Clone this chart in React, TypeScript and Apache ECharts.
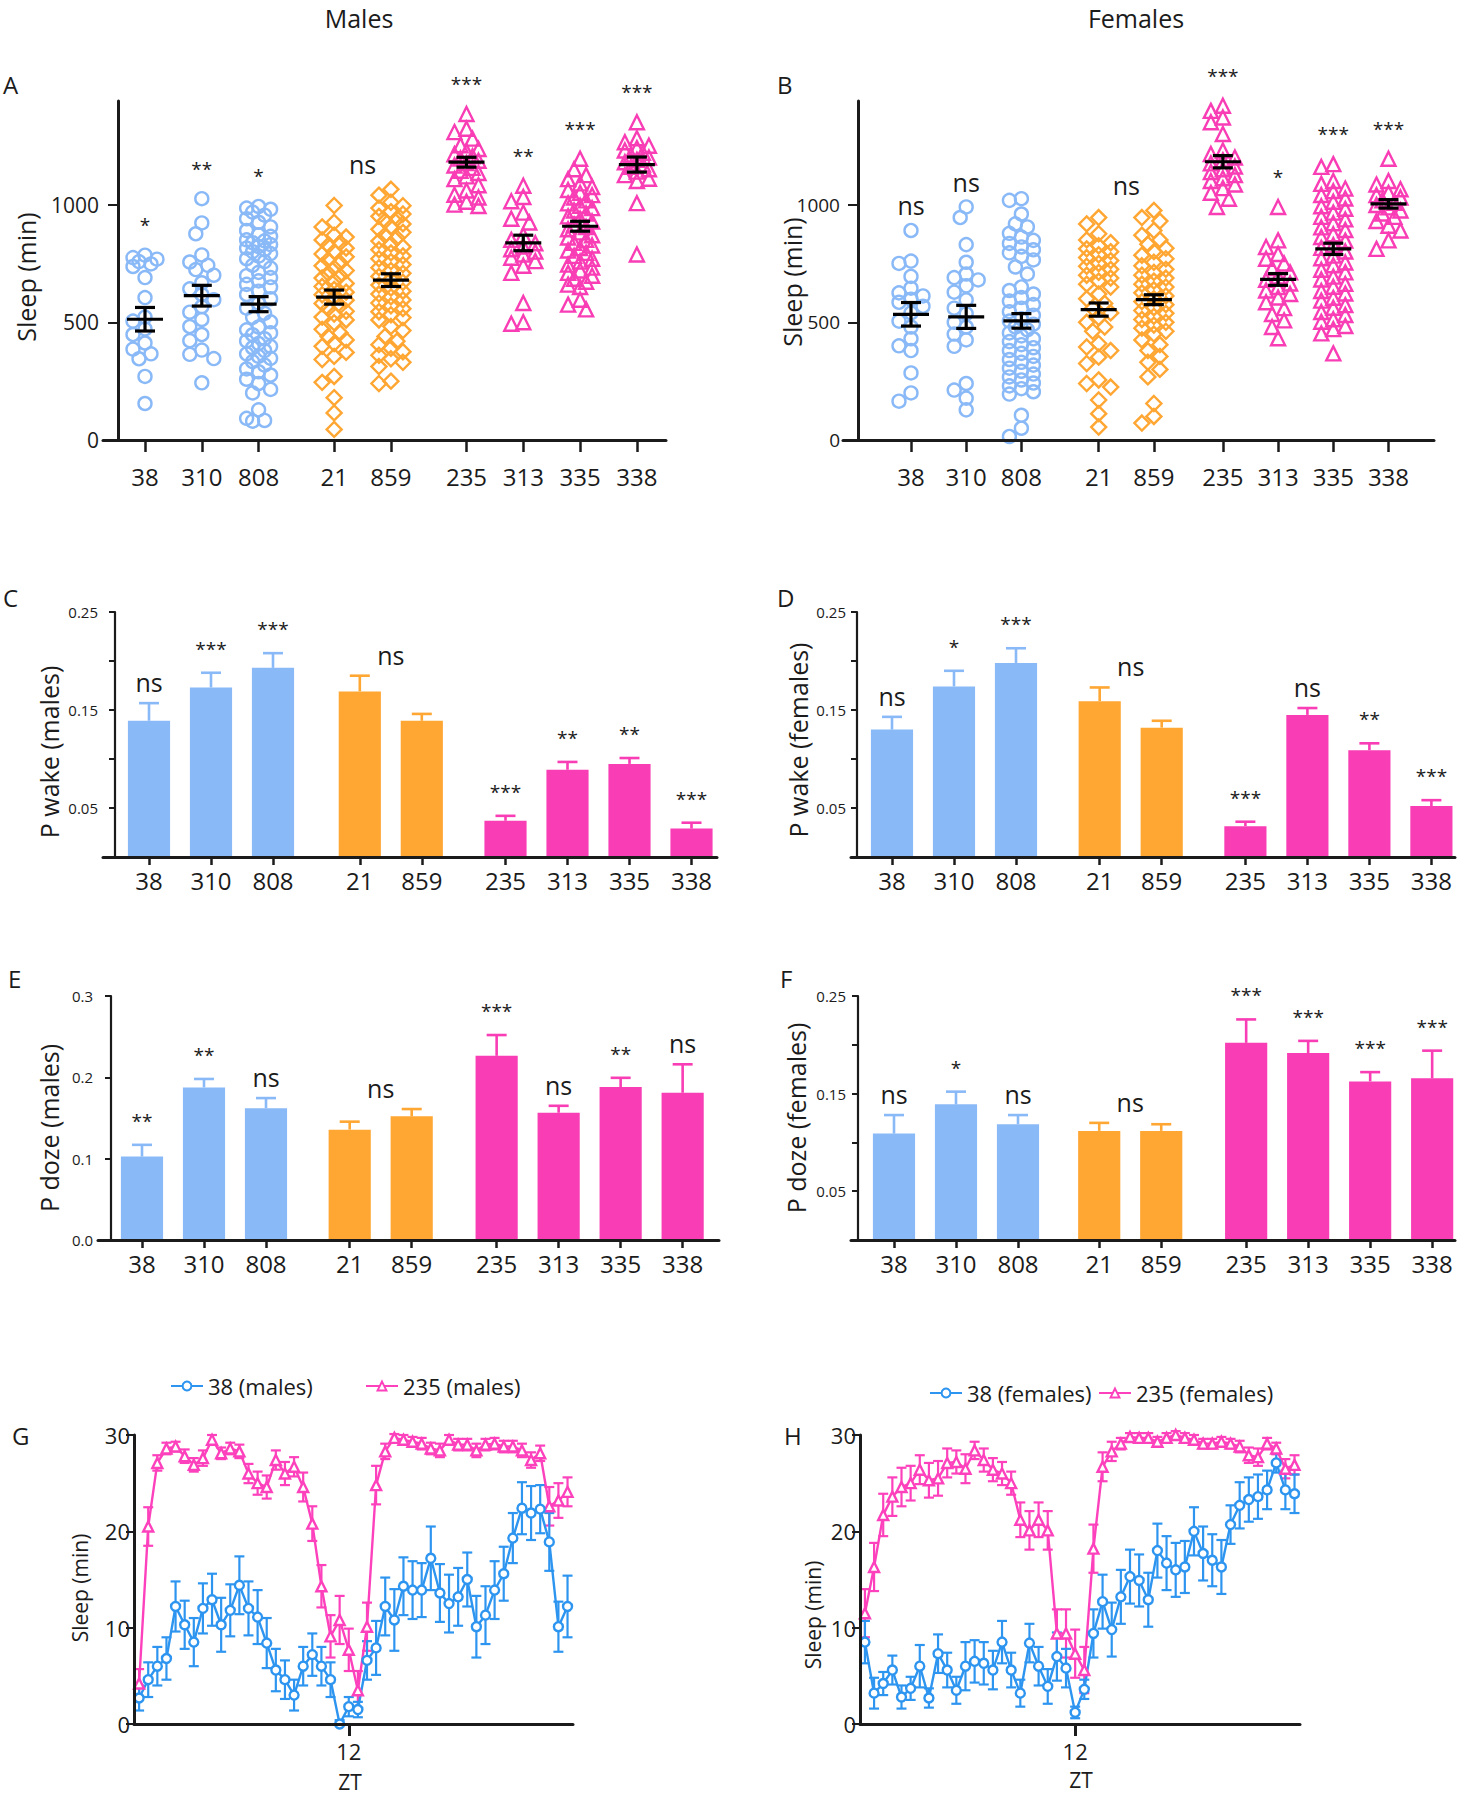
import React, { useEffect, useRef } from "react";
import * as echarts from "echarts";

// ---------------- categories ----------------
const strains = ["38", "310", "808", "21", "859", "235", "313", "335", "338"];
const strainGroup = [0, 0, 0, 1, 1, 2, 2, 2, 2];
const sigGroups = [[0], [1], [2], [3, 4], [5], [6], [7], [8]];

// ---------------- A: Sleep (min), males ----------------
const maleSleep38 = [785, 775, 768, 758, 748, 737, 690, 605, 522, 505, 472, 448, 412, 386, 366, 345, 270, 155];
const maleSleep310 = [1025, 922, 876, 786, 756, 742, 724, 700, 668, 642, 618, 596, 566, 543, 512, 482, 448, 422, 382, 364, 346, 243];
const maleSleep808 = [992, 985, 980, 968, 955, 940, 925, 905, 890, 872, 865, 850, 846, 838, 830, 822, 815, 808, 800, 792, 781, 770, 758, 742, 730, 712, 698, 690, 676, 661, 650, 632, 618, 600, 581, 560, 538, 521, 502, 480, 468, 455, 447, 430, 421, 410, 398, 392, 380, 366, 355, 347, 333, 318, 302, 290, 276, 258, 240, 215, 200, 128, 92, 83, 80];
const maleSleep21 = [996, 925, 905, 870, 862, 850, 838, 826, 815, 800, 790, 778, 765, 752, 740, 731, 720, 708, 697, 688, 676, 665, 652, 640, 628, 617, 605, 594, 580, 570, 558, 547, 535, 522, 510, 498, 470, 455, 440, 425, 410, 398, 372, 355, 342, 270, 245, 180, 115, 45];
const maleSleep859 = [1065, 1040, 1010, 995, 985, 970, 960, 950, 940, 930, 918, 905, 895, 882, 870, 858, 845, 832, 820, 808, 795, 782, 770, 758, 745, 732, 720, 708, 695, 682, 670, 658, 645, 632, 620, 608, 595, 582, 570, 558, 545, 532, 520, 510, 482, 465, 440, 420, 405, 390, 375, 360, 345, 330, 312, 250, 240];
const maleSleep235 = [1385, 1322, 1308, 1280, 1252, 1236, 1226, 1214, 1205, 1196, 1186, 1176, 1166, 1156, 1144, 1134, 1120, 1108, 1082, 1060, 1042, 1030, 1012, 1000, 994];
const maleSleep313 = [1080, 1032, 1014, 966, 940, 924, 870, 850, 836, 822, 810, 800, 788, 774, 760, 740, 710, 582, 500, 494];
const maleSleep335 = [1195, 1150, 1125, 1108, 1090, 1075, 1062, 1050, 1040, 1030, 1018, 1005, 995, 985, 975, 962, 950, 940, 928, 915, 905, 895, 882, 870, 860, 850, 838, 826, 815, 805, 795, 782, 770, 758, 745, 732, 720, 710, 698, 685, 672, 660, 650, 596, 575, 555];
const maleSleep338 = [1350, 1282, 1265, 1250, 1240, 1230, 1220, 1210, 1200, 1190, 1180, 1170, 1160, 1150, 1140, 1125, 1110, 1100, 1006, 788];
const maleSleepPoints = [maleSleep38, maleSleep310, maleSleep808, maleSleep21, maleSleep859, maleSleep235, maleSleep313, maleSleep335, maleSleep338];
const maleSleepMean = [513, 613, 577, 607, 679, 1180, 837, 908, 1170];
const maleSleepSem = [50, 44, 32, 30, 27, 21, 33, 21, 32];
const maleSleepSig = ["*", "**", "*", "ns", "***", "**", "***", "***"];

// ---------------- B: Sleep (min), females ----------------
const femaleSleep38 = [890, 760, 750, 695, 645, 625, 612, 598, 585, 568, 540, 505, 480, 430, 400, 380, 285, 200, 165];
const femaleSleep310 = [990, 945, 830, 755, 705, 690, 680, 655, 628, 595, 560, 537, 500, 480, 450, 425, 398, 240, 212, 178, 128];
const femaleSleep808 = [1025, 1018, 960, 918, 905, 878, 862, 848, 835, 820, 808, 795, 780, 765, 735, 705, 650, 635, 620, 605, 590, 575, 560, 545, 530, 515, 505, 492, 480, 468, 455, 442, 430, 418, 405, 392, 380, 368, 355, 342, 330, 318, 305, 292, 280, 268, 255, 242, 230, 218, 205, 195, 105, 50, 15];
const femaleSleep21 = [945, 918, 876, 850, 838, 825, 812, 800, 787, 775, 762, 750, 738, 725, 712, 700, 688, 675, 662, 650, 620, 600, 580, 560, 540, 520, 500, 480, 462, 410, 395, 380, 352, 325, 255, 240, 225, 170, 112, 55];
const femaleSleep859 = [975, 945, 930, 890, 870, 850, 832, 815, 800, 785, 770, 755, 740, 725, 712, 700, 688, 675, 662, 650, 638, 625, 612, 600, 588, 575, 562, 550, 538, 525, 512, 500, 488, 475, 462, 450, 425, 405, 380, 355, 330, 300, 268, 155, 100, 72];
const femaleSleep235 = [1420, 1398, 1370, 1350, 1300, 1230, 1215, 1200, 1188, 1175, 1162, 1150, 1138, 1125, 1112, 1100, 1085, 1070, 1050, 1025, 990];
const femaleSleep313 = [990, 848, 820, 790, 770, 750, 730, 712, 695, 680, 665, 650, 635, 620, 605, 585, 560, 535, 508, 480, 432];
const femaleSleep335 = [1172, 1160, 1100, 1088, 1068, 1057, 1041, 1026, 1012, 993, 982, 966, 948, 937, 921, 903, 892, 874, 862, 847, 828, 816, 801, 783, 772, 754, 742, 723, 712, 694, 682, 663, 651, 633, 622, 604, 592, 573, 562, 544, 531, 513, 502, 484, 471, 453, 368];
const femaleSleep338 = [1195, 1100, 1085, 1065, 1050, 1040, 1030, 1018, 1008, 998, 988, 975, 962, 948, 930, 910, 890, 848, 812];
const femaleSleepPoints = [femaleSleep38, femaleSleep310, femaleSleep808, femaleSleep21, femaleSleep859, femaleSleep235, femaleSleep313, femaleSleep335, femaleSleep338];
const femaleSleepMean = [534, 523, 506, 554, 596, 1182, 682, 812, 1003];
const femaleSleepSem = [50, 49, 31, 28, 21, 26, 25, 24, 18];
const femaleSleepSig = ["ns", "ns", "", "ns", "***", "*", "***", "***"];

// ---------------- C / D: P wake ----------------
const maleWakeMean = [0.139, 0.173, 0.193, 0.169, 0.139, 0.037, 0.089, 0.095, 0.029];
const maleWakeSem = [0.018, 0.015, 0.015, 0.016, 0.007, 0.005, 0.008, 0.006, 0.006];
const maleWakeSig = ["ns", "***", "***", "ns", "***", "**", "**", "***"];
const femaleWakeMean = [0.13, 0.174, 0.198, 0.159, 0.132, 0.0315, 0.145, 0.109, 0.052];
const femaleWakeSem = [0.013, 0.016, 0.015, 0.014, 0.007, 0.0045, 0.007, 0.007, 0.006];
const femaleWakeSig = ["ns", "*", "***", "ns", "***", "ns", "**", "***"];

// ---------------- E / F: P doze ----------------
const maleDozeMean = [0.1026, 0.1876, 0.162, 0.1357, 0.152, 0.2264, 0.1565, 0.188, 0.181];
const maleDozeSem = [0.0144, 0.0104, 0.0125, 0.0098, 0.009, 0.0256, 0.0085, 0.0114, 0.035];
const maleDozeSig = ["**", "**", "ns", "ns", "***", "ns", "**", "ns"];
const femaleDozeMean = [0.109, 0.139, 0.1186, 0.1118, 0.1118, 0.202, 0.1915, 0.1625, 0.1656];
const femaleDozeSem = [0.019, 0.013, 0.0094, 0.0082, 0.0068, 0.024, 0.0125, 0.0095, 0.0284];
const femaleDozeSig = ["ns", "*", "ns", "ns", "***", "***", "***", "***"];

// ---------------- G / H: sleep per 30-min bin ----------------
const maleProfile38 = [2.7, 4.6, 6, 6.8, 12.2, 10.3, 8.5, 12, 12.9, 10.3, 11.8, 14.4, 12, 11.1, 8.4, 5.6, 4.6, 3, 6, 7.2, 6, 4.6, 0, 1.8, 1.5, 6.6, 7.9, 12.2, 10.8, 14.3, 13.9, 13.9, 17.2, 13.6, 12.5, 13.2, 15, 10.1, 11.3, 13.9, 15.6, 19.3, 22.4, 21.9, 22.3, 18.9, 10.1, 12.2];
const maleProfile38Sem = [1.3, 1.8, 2.0, 2.2, 2.6, 2.5, 2.5, 2.6, 2.7, 2.8, 2.7, 3.0, 2.8, 2.8, 2.6, 2.2, 2.0, 1.6, 2.0, 2.2, 2.0, 1.8, 0.4, 1.0, 0.8, 2.0, 2.8, 3.0, 3.2, 3.0, 3.0, 2.8, 3.3, 3.0, 3.0, 3.0, 2.8, 3.2, 3.0, 3.0, 2.8, 2.6, 2.7, 2.8, 2.5, 3.0, 2.6, 3.2];
const maleProfile235 = [4.2, 20.5, 27.1, 28.6, 28.8, 27.8, 26.9, 27.6, 29.5, 28.1, 28.6, 28.3, 26, 25, 24.6, 27.4, 26, 26.7, 24.6, 20.8, 14.3, 9.1, 10.8, 7.7, 3.5, 10.1, 24.8, 28.3, 29.7, 29.5, 29.3, 29.1, 28.6, 28.4, 29.5, 29, 29, 28.4, 29, 29.1, 28.8, 28.8, 28.4, 27.4, 28.1, 22.6, 23.2, 24.1];
const maleProfile235Sem = [1.5, 2.0, 0.8, 0.6, 0.5, 0.7, 0.7, 0.8, 0.5, 0.6, 0.6, 0.7, 1.0, 1.2, 1.2, 1.0, 1.2, 1.0, 1.5, 1.8, 2.2, 2.2, 2.5, 2.2, 2.0, 2.5, 2.0, 0.8, 0.4, 0.5, 0.5, 0.6, 0.6, 0.7, 0.5, 0.6, 0.6, 0.7, 0.6, 0.6, 0.6, 0.6, 0.7, 0.8, 0.8, 2.0, 1.8, 1.5];
const femaleProfile38 = [8.5, 3.2, 4.2, 5.6, 2.8, 3.7, 6, 2.7, 7.3, 5.6, 3.5, 6, 6.5, 6.3, 5.6, 8.5, 5.6, 3.2, 8.4, 6, 3.9, 7, 5.8, 1.2, 3.6, 9.4, 12.7, 9.8, 13.2, 15.3, 14.9, 12.9, 18, 16.7, 16, 16.3, 20, 17.7, 17, 16.3, 20.7, 22.7, 23.3, 23.6, 24.3, 27.1, 24.3, 23.9];
const femaleProfile38Sem = [2.2, 1.6, 1.2, 1.5, 1.2, 1.2, 2.2, 1.0, 2.0, 1.8, 1.4, 2.5, 2.2, 2.2, 2.0, 2.2, 1.8, 1.4, 2.0, 2.0, 1.8, 2.5, 2.0, 0.6, 1.0, 2.5, 2.8, 2.8, 2.8, 2.8, 2.7, 2.8, 2.8, 2.8, 2.8, 2.7, 2.5, 2.8, 2.7, 2.8, 2.0, 2.4, 2.3, 2.3, 2.0, 1.0, 2.0, 2.0];
const femaleProfile235 = [11.5, 16.3, 21.7, 23.6, 24.6, 25, 26.4, 25.3, 25.5, 27.1, 27.2, 26.5, 28.4, 27.4, 26.4, 26, 25, 21.2, 20.1, 21.2, 20.1, 9.4, 9.4, 7.3, 5.6, 18.2, 26.7, 28.3, 29.1, 29.8, 29.7, 29.7, 29.3, 29.7, 30, 29.7, 29.5, 29.1, 29.1, 29.3, 29.1, 28.8, 27.9, 27.7, 29.1, 28.6, 26.5, 26.9];
const femaleProfile235Sem = [2.5, 2.5, 2.2, 2.0, 2.0, 1.8, 1.5, 1.8, 1.8, 1.5, 1.2, 1.5, 0.9, 1.2, 1.2, 1.2, 1.2, 1.8, 2.0, 1.8, 2.0, 2.5, 2.5, 2.5, 2.4, 2.5, 1.5, 1.0, 0.6, 0.4, 0.5, 0.5, 0.5, 0.5, 0.4, 0.5, 0.5, 0.5, 0.5, 0.5, 0.5, 0.6, 0.8, 0.9, 0.6, 0.6, 1.0, 1.0];
const binHours = 0.5;

// ---------------- tick labels ----------------
const sleepTicks = [0, 500, 1000];
const wakeTicks = [0.05, 0.1, 0.15, 0.2, 0.25];
const wakeLabels = [0.05, 0.15, 0.25];
const dozeMaleTicks = [0, 0.1, 0.2, 0.3];
const profileTicks = [0, 10, 20, 30];
const ztTicks = [12];

// ---------------- styles / layout ----------------
const COLORS = ["#8ab9f7", "#ffa633", "#f83db5"];
const SYMBOLS = ["circle", "diamond", "triangle"];
const SYM_SIZE = [13, 15, 14];
const LINE_BLUE = "#2d95f0";
const LINE_PINK = "#fd41bc";
const INK = "#1b1b1b";
const NUM_FONT = "'Liberation Sans Narrow', 'Open Sans', sans-serif";
const TXT_FONT = "'Open Sans', 'Liberation Sans', sans-serif";

const LAY: any = {
  A: { axisX: 118, left: 103, right: 666, top: 101, bottom: 440, firstX: 145, unit: 56.8, groups: [0, 0.33, 0.66] },
  B: { axisX: 858, left: 843, right: 1434, top: 101, bottom: 440, firstX: 911, unit: 55.2, groups: [0, 0.4, 0.65] },
  C: { axisX: 115, left: 103, right: 717, top: 612, bottom: 857, firstX: 149, unit: 62, groups: [0, 0.4, 0.75] },
  D: { axisX: 857, left: 851, right: 1455, top: 612, bottom: 857, firstX: 892, unit: 62, groups: [0, 0.35, 0.7] },
  E: { axisX: 111, left: 98, right: 719, top: 996, bottom: 1240, firstX: 142, unit: 62, groups: [0, 0.35, 0.72] },
  F: { axisX: 858, left: 851, right: 1455, top: 996, bottom: 1240, firstX: 894, unit: 62, groups: [0, 0.31, 0.68] },
  G: { left: 134, right: 573, top: 1435, bottom: 1724, xmin: 0.22, xmax: 24.3 },
  H: { left: 860, right: 1300, top: 1435, bottom: 1724, xmin: 0.23, xmax: 24.3 },
};

function positions(L: any) {
  return strains.map((_, k) => (L.firstX - L.axisX) / L.unit + k + L.groups[strainGroup[k]]);
}

// simple deterministic beeswarm (pixel space)
function swarm(values: number[], center: number, unitPx: number, valPx: number) {
  const cands = [0, -6, 6, -12, 12];
  const placed: { x: number; y: number }[] = [];
  const order = values.map((_, i) => i).sort((a, b) => values[b] - values[a]);
  const out: any[] = new Array(values.length);
  for (const i of order) {
    const y = values[i] * valPx;
    let best = 0;
    let bestD = -1;
    for (const c of cands) {
      let md = Infinity;
      for (const p of placed) {
        const d = Math.hypot(p.x - c, p.y - y);
        if (d < md) md = d;
      }
      if (md >= 11) { best = c; break; }
      if (md > bestD) { bestD = md; best = c; }
    }
    placed.push({ x: best, y });
    out[i] = [center + best / unitPx, values[i]];
  }
  return out;
}

function gridOf(L: any) {
  return { left: L.left, top: L.top, width: L.right - L.left, height: L.bottom - L.top, containLabel: false };
}

function catXAxis(gi: number, L: any, margin: number, tickLen: number) {
  const pos = positions(L);
  return {
    type: "value", gridIndex: gi, z: 10,
    min: (L.left - L.axisX) / L.unit, max: (L.right - L.axisX) / L.unit,
    axisLine: { show: true, onZero: true, lineStyle: { color: INK, width: 3 } },
    axisTick: { show: true, customValues: pos, length: tickLen, lineStyle: { color: INK, width: 2.5 } },
    axisLabel: {
      show: true, customValues: pos, margin, fontSize: 24, color: INK, fontFamily: NUM_FONT,
      formatter: (v: number) => { const k = pos.findIndex((p) => Math.abs(p - v) < 1e-6); return k >= 0 ? strains[k] : ""; },
    },
    splitLine: { show: false },
  };
}

function valYAxis(gi: number, max: number, ticks: number[], labels: number[], fmt: any, fontSize: number, tickLen: number, margin: number, width: number) {
  return {
    type: "value", gridIndex: gi, min: 0, max, z: 10,
    axisLine: { show: true, onZero: true, lineStyle: { color: INK, width } },
    axisTick: { show: true, customValues: ticks, length: tickLen, lineStyle: { color: INK, width: 2 } },
    axisLabel: { show: true, customValues: labels, formatter: fmt, fontSize, color: INK, fontFamily: NUM_FONT, margin },
    splitLine: { show: false },
  };
}

function sigSeries(gi: number, pos: number[], sig: string[], tops: number[], starGap: number, nsGap: number) {
  const data = sigGroups.map((members, g) => [members.reduce((s, k) => s + pos[k], 0) / members.length, tops[g]]);
  return {
    type: "custom", xAxisIndex: gi, yAxisIndex: gi, clip: false, silent: true, z: 6, data,
    renderItem: (params: any, api: any) => {
      const t = sig[params.dataIndex];
      if (!t) return { type: "group", children: [] };
      const p = api.coord([api.value(0), api.value(1)]);
      const isNs = t === "ns";
      return {
        type: "text", x: p[0], y: p[1] - (isNs ? nsGap : starGap),
        style: {
          text: t, fill: INK, fontSize: isNs ? 25 : 19, fontFamily: TXT_FONT,
          align: "center", verticalAlign: "middle", textAlign: "center", textVerticalAlign: "middle",
        },
      };
    },
  };
}

function scatterPanel(gi: number, L: any, pts: number[][], mean: number[], sem: number[], sig: string[], yMax: number) {
  const pos = positions(L);
  const valPx = (L.bottom - L.top) / yMax;
  const series: any[] = [];
  pts.forEach((arr, k) => {
    const g = strainGroup[k];
    series.push({
      type: "scatter", xAxisIndex: gi, yAxisIndex: gi, silent: true, z: 3,
      symbol: SYMBOLS[g], symbolSize: SYM_SIZE[g],
      itemStyle: { color: "rgba(255,255,255,0)", borderColor: COLORS[g], borderWidth: 2.4, opacity: 1 },
      data: swarm(arr, pos[k], L.unit, valPx),
    });
  });
  series.push({
    type: "custom", xAxisIndex: gi, yAxisIndex: gi, clip: false, silent: true, z: 5,
    data: pos.map((p, k) => [p, mean[k], sem[k]]),
    renderItem: (params: any, api: any) => {
      const x = api.value(0), m = api.value(1), s = api.value(2);
      const c = api.coord([x, m]);
      const t = api.coord([x, m + s]);
      const b = api.coord([x, m - s]);
      const st = { stroke: "#000", lineWidth: 3.2 };
      return {
        type: "group",
        children: [
          { type: "line", shape: { x1: c[0] - 18, y1: c[1], x2: c[0] + 18, y2: c[1] }, style: st },
          { type: "line", shape: { x1: t[0], y1: t[1], x2: b[0], y2: b[1] }, style: st },
          { type: "line", shape: { x1: t[0] - 10, y1: t[1], x2: t[0] + 10, y2: t[1] }, style: st },
          { type: "line", shape: { x1: b[0] - 10, y1: b[1], x2: b[0] + 10, y2: b[1] }, style: st },
        ],
      };
    },
  });
  const tops = sigGroups.map((members) => Math.max(...members.map((k) => Math.max(...pts[k]))));
  series.push(sigSeries(gi, pos, sig, tops, 30, 25));
  return series;
}

function barPanel(gi: number, L: any, mean: number[], sem: number[], sig: string[]) {
  const pos = positions(L);
  const half = 0.34;
  const series: any[] = [];
  series.push({
    type: "custom", xAxisIndex: gi, yAxisIndex: gi, clip: false, silent: true, z: 3,
    data: pos.map((p, k) => [p, mean[k], sem[k], k]),
    renderItem: (params: any, api: any) => {
      const x = api.value(0), m = api.value(1), s = api.value(2), k = api.value(3);
      const col = COLORS[strainGroup[k]];
      const p0 = api.coord([x - half, 0]);
      const p1 = api.coord([x + half, m]);
      const top = api.coord([x, m]);
      const et = api.coord([x, m + s]);
      const st = { stroke: col, lineWidth: 2.6 };
      return {
        type: "group",
        children: [
          { type: "rect", shape: { x: p0[0], y: p1[1], width: p1[0] - p0[0], height: p0[1] - p1[1] }, style: { fill: col } },
          { type: "line", shape: { x1: top[0], y1: top[1], x2: et[0], y2: et[1] }, style: st },
          { type: "line", shape: { x1: et[0] - 10, y1: et[1], x2: et[0] + 10, y2: et[1] }, style: st },
        ],
      };
    },
  });
  const tops = sigGroups.map((members) => Math.max(...members.map((k) => mean[k] + sem[k])));
  series.push(sigSeries(gi, pos, sig, tops, 24, 21));
  return series;
}

function profileSeries(gi: number, name: string, values: number[], sem: number[], color: string, symbol: string, size: number) {
  const data = values.map((v, i) => [(i + 1) * binHours, v]);
  return [
    {
      type: "custom", xAxisIndex: gi, yAxisIndex: gi, clip: false, silent: true, z: 3,
      data: values.map((v, i) => [(i + 1) * binHours, v, sem[i]]),
      renderItem: (params: any, api: any) => {
        const x = api.value(0), v = api.value(1), s = api.value(2);
        const t = api.coord([x, v + s]);
        const b = api.coord([x, Math.max(0, v - s)]);
        const st = { stroke: color, lineWidth: 2.2 };
        return {
          type: "group",
          children: [
            { type: "line", shape: { x1: t[0], y1: t[1], x2: b[0], y2: b[1] }, style: st },
            { type: "line", shape: { x1: t[0] - 5, y1: t[1], x2: t[0] + 5, y2: t[1] }, style: st },
            { type: "line", shape: { x1: b[0] - 5, y1: b[1], x2: b[0] + 5, y2: b[1] }, style: st },
          ],
        };
      },
    },
    {
      type: "line", name, xAxisIndex: gi, yAxisIndex: gi, z: 4, silent: true,
      data, symbol, symbolSize: size, showAllSymbol: true,
      lineStyle: { color, width: 2.4 },
      itemStyle: { color: "#ffffff", borderColor: color, borderWidth: 2.4 },
    },
  ];
}

function profileXAxis(gi: number, L: any) {
  return {
    type: "value", gridIndex: gi, min: L.xmin, max: L.xmax, z: 10,
    axisLine: { show: true, onZero: false, lineStyle: { color: INK, width: 3 } },
    axisTick: { show: true, customValues: ztTicks, length: 12, lineStyle: { color: INK, width: 3 } },
    axisLabel: { show: true, customValues: ztTicks, fontSize: 22, color: INK, fontFamily: NUM_FONT, margin: 16 },
    splitLine: { show: false },
  };
}

function txt(text: string, x: number, y: number, fontSize: number, opts: any = {}) {
  return {
    type: "text", x, y, rotation: opts.rotation || 0, silent: true, z: 20,
    style: {
      text, fill: INK, fontSize, fontFamily: opts.font || TXT_FONT,
      align: opts.align || "center", verticalAlign: "middle",
      textAlign: opts.align || "center", textVerticalAlign: "middle",
    },
  };
}

function buildOption() {
  const f2 = (v: number) => v.toFixed(2);
  const f1 = (v: number) => v.toFixed(1);
  const f0 = (v: number) => String(v);
  const legendBase = { itemWidth: 32, itemHeight: 11, padding: 0, textStyle: { fontSize: 22, color: INK, fontFamily: NUM_FONT } };
  const R = Math.PI / 2;
  return {
    animation: false,
    backgroundColor: "#ffffff",
    grid: ["A", "B", "C", "D", "E", "F", "G", "H"].map((k) => gridOf(LAY[k])),
    xAxis: [
      catXAxis(0, LAY.A, 24, 12),
      catXAxis(1, LAY.B, 24, 12),
      catXAxis(2, LAY.C, 11, 8),
      catXAxis(3, LAY.D, 11, 8),
      catXAxis(4, LAY.E, 11, 8),
      catXAxis(5, LAY.F, 11, 8),
      profileXAxis(6, LAY.G),
      profileXAxis(7, LAY.H),
    ],
    yAxis: [
      valYAxis(0, 1440, sleepTicks, sleepTicks, f0, 21, 10, 4, 3),
      valYAxis(1, 1440, sleepTicks, sleepTicks, f0, 19, 10, 3, 3),
      valYAxis(2, 0.25, wakeTicks, wakeLabels, f2, 15, 6, 5, 2.2),
      valYAxis(3, 0.25, wakeTicks, wakeLabels, f2, 15, 6, 5, 2.2),
      valYAxis(4, 0.3, dozeMaleTicks, dozeMaleTicks, f1, 15, 6, 5, 2.2),
      valYAxis(5, 0.25, wakeTicks, wakeLabels, f2, 15, 6, 5, 2.2),
      valYAxis(6, 30, profileTicks, profileTicks, f0, 22, 8, 4, 3),
      valYAxis(7, 30, profileTicks, profileTicks, f0, 22, 8, 4, 3),
    ],
    legend: [
      { ...legendBase, data: ["38 (males)"], left: 170, top: 1375 },
      { ...legendBase, data: ["235 (males)"], left: 365, top: 1375 },
      { ...legendBase, data: ["38 (females)"], left: 929, top: 1382 },
      { ...legendBase, data: ["235 (females)"], left: 1098, top: 1382 },
    ],
    series: [
      ...scatterPanel(0, LAY.A, maleSleepPoints, maleSleepMean, maleSleepSem, maleSleepSig, 1440),
      ...scatterPanel(1, LAY.B, femaleSleepPoints, femaleSleepMean, femaleSleepSem, femaleSleepSig, 1440),
      ...barPanel(2, LAY.C, maleWakeMean, maleWakeSem, maleWakeSig),
      ...barPanel(3, LAY.D, femaleWakeMean, femaleWakeSem, femaleWakeSig),
      ...barPanel(4, LAY.E, maleDozeMean, maleDozeSem, maleDozeSig),
      ...barPanel(5, LAY.F, femaleDozeMean, femaleDozeSem, femaleDozeSig),
      ...profileSeries(6, "235 (males)", maleProfile235, maleProfile235Sem, LINE_PINK, "triangle", 10),
      ...profileSeries(6, "38 (males)", maleProfile38, maleProfile38Sem, LINE_BLUE, "circle", 9),
      ...profileSeries(7, "235 (females)", femaleProfile235, femaleProfile235Sem, LINE_PINK, "triangle", 10),
      ...profileSeries(7, "38 (females)", femaleProfile38, femaleProfile38Sem, LINE_BLUE, "circle", 9),
    ],
    graphic: [
      txt("Males", 359, 18, 25),
      txt("Females", 1136, 18, 25),
      txt("A", 3, 84, 24, { align: "left" }),
      txt("B", 777, 84, 24, { align: "left" }),
      txt("C", 3, 597, 24, { align: "left" }),
      txt("D", 777, 597, 24, { align: "left" }),
      txt("E", 8, 978, 24, { align: "left" }),
      txt("F", 780, 978, 24, { align: "left" }),
      txt("G", 12, 1435, 24, { align: "left" }),
      txt("H", 784, 1435, 24, { align: "left" }),
      txt("Sleep (min)", 26, 277, 25, { rotation: R }),
      txt("Sleep (min)", 792, 282, 25, { rotation: R }),
      txt("P wake (males)", 49, 752, 25, { rotation: R }),
      txt("P wake (females)", 798, 740, 25, { rotation: R }),
      txt("P doze (males)", 49, 1128, 25, { rotation: R }),
      txt("P doze (females)", 796, 1118, 25, { rotation: R }),
      txt("Sleep (min)", 80, 1588, 21, { rotation: R }),
      txt("Sleep (min)", 813, 1615, 21, { rotation: R }),
      txt("ZT", 350, 1782, 21, { font: NUM_FONT }),
      txt("ZT", 1081, 1780, 21, { font: NUM_FONT }),
    ],
  };
}

export default function App() {
  const ref = useRef<HTMLDivElement>(null);
  useEffect(() => {
    if (!ref.current) return;
    const chart = echarts.init(ref.current, null, { renderer: "svg" });
    chart.setOption(buildOption() as any);
    return () => chart.dispose();
  }, []);
  return <div ref={ref} style={{ position: "absolute", left: 0, top: 0, width: 1470, height: 1800, background: "#fff" }} />;
}
